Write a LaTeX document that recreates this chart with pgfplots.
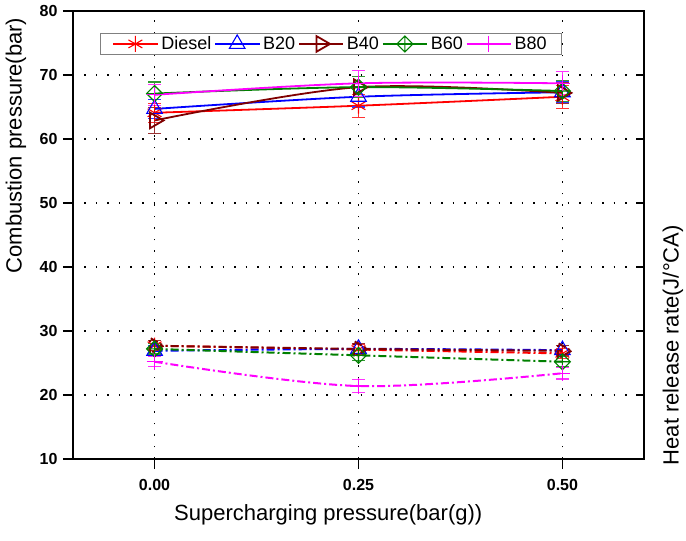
\documentclass[border=0pt]{standalone}
\usepackage{pgfplots}
\pgfplotsset{compat=1.18}
\usepackage{fontspec}
\setmainfont{Liberation Sans}
\usetikzlibrary{plotmarks}

\definecolor{cDiesel}{RGB}{255,0,0}
\definecolor{cBtwenty}{RGB}{0,0,255}
\definecolor{cBforty}{RGB}{128,0,0}
\definecolor{cBsixty}{RGB}{0,128,0}
\definecolor{cBeighty}{RGB}{255,0,255}

% open diamond with a cross inside
\pgfdeclareplotmark{diamond+}{%
  \pgfpathmoveto{\pgfqpoint{0pt}{\pgfplotmarksize}}%
  \pgfpathlineto{\pgfqpoint{\pgfplotmarksize}{0pt}}%
  \pgfpathlineto{\pgfqpoint{0pt}{-\pgfplotmarksize}}%
  \pgfpathlineto{\pgfqpoint{-\pgfplotmarksize}{0pt}}%
  \pgfpathclose
  \pgfpathmoveto{\pgfqpoint{0pt}{\pgfplotmarksize}}%
  \pgfpathlineto{\pgfqpoint{0pt}{-\pgfplotmarksize}}%
  \pgfpathmoveto{\pgfqpoint{\pgfplotmarksize}{0pt}}%
  \pgfpathlineto{\pgfqpoint{-\pgfplotmarksize}{0pt}}%
  \pgfusepathqstroke}

\pgfplotsset{
  common/.style={
    scale only axis, width=571pt, height=448pt,
    at={(0pt,0pt)}, anchor=south west,
    xmin=-0.1, xmax=0.6, ymin=10, ymax=80,
    ytick={10,20,...,80},
    axis line style={line width=1.4pt},
    tick style={line width=1.4pt, black},
    /pgf/number format/assume math mode=true,
  },
  series/.style={color=#1, line width=1.8pt, smooth, tension=0.55,
    mark options={solid, line width=1.1pt},
    error bars/y dir=both, error bars/y explicit,
    error bars/error bar style={line width=1.1pt, solid, #1!80!white},
    error bars/error mark options={rotate=90, mark size=6.5pt, line width=1.1pt, #1!80!white}},
  hrr/.style={series=#1, dash pattern=on 8pt off 3pt on 2pt off 3pt, line width=2pt},
}

\begin{document}
\begin{tikzpicture}
% combustion pressure (left axis)
\begin{axis}[common,
  xtick={0,0.25,0.5}, xticklabels={0.00,0.25,0.50},
  xtick pos=bottom, ytick pos=left,
  tick align=outside, major tick length=10pt,
  grid=major,
  major grid style={black, line width=1.5pt, dash pattern=on 1.5pt off 10pt},
  ticklabel style={font=\fontsize{16}{16}\selectfont\bfseries},
  xticklabel style={yshift=-7pt},
  yticklabel style={xshift=-2pt},
  legend columns=-1,
  legend style={at={(rel axis cs:0.047,0.952)}, anchor=north west,
    draw=gray, line width=1.3pt, font=\fontsize{18}{18}\selectfont,
    inner xsep=12pt, inner ysep=1.5pt,
    nodes={inner xsep=3pt},
    /tikz/every even column/.append style={column sep=0pt}},
  legend image code/.code={%
    \draw[#1, mark repeat=2, mark phase=2] plot coordinates {(0pt,0pt) (22pt,0pt) (44pt,0pt)};},
]
\addplot[series=cDiesel, mark=asterisk, mark size=8pt] coordinates {
  (0,64.1) +- (0,1.5) (0.25,65.2) +- (0,1.8) (0.5,66.6) +- (0,1.8)};
\addlegendentry{Diesel}
\addplot[series=cBtwenty, mark=triangle, mark size=9pt] coordinates {
  (0,64.7) +- (0,1.5) (0.25,66.6) +- (0,1.6) (0.5,67.3) +- (0,1.6)};
\addlegendentry{B20}
\addplot[series=cBforty, mark=triangle, mark size=9pt, mark options={rotate=-90}] coordinates {
  (0,62.9) +- (0,2.0) (0.25,68.1) +- (0,1.6) (0.5,67.2) +- (0,1.6)};
\addlegendentry{B40}
\addplot[series=cBsixty, mark=diamond+, mark size=8pt] coordinates {
  (0,67.1) +- (0,1.8) (0.25,68.1) +- (0,1.6) (0.5,67.5) +- (0,1.6)};
\addlegendentry{B60}
\addplot[series=cBeighty, mark=+, mark size=8pt] coordinates {
  (0,66.9) +- (0,1.6) (0.25,68.7) +- (0,2.0) (0.5,68.7) +- (0,1.8)};
\addlegendentry{B80}
\end{axis}

% heat release rate (right axis)
\begin{axis}[common, clip=false,
  axis x line=none, axis y line*=right,
  yticklabels={}, tick align=inside, major tick length=8pt,
]
\addplot[hrr=cDiesel, mark=asterisk, mark size=8pt] coordinates {
  (0,27.7) +- (0,0.8) (0.25,27.1) +- (0,0.8) (0.5,26.5) +- (0,0.8)};
\addplot[hrr=cBtwenty, mark=triangle, mark size=9pt] coordinates {
  (0,26.9) +- (0,0.8) (0.25,27.2) +- (0,0.8) (0.5,27.0) +- (0,0.8)};
\addplot[hrr=cBforty, mark=triangle, mark size=9pt, mark options={rotate=-90}] coordinates {
  (0,27.7) +- (0,0.8) (0.25,27.2) +- (0,0.8) (0.5,26.9) +- (0,0.8)};
\addplot[hrr=cBsixty, mark=diamond+, mark size=8pt] coordinates {
  (0,27.2) +- (0,0.8) (0.25,26.2) +- (0,0.8) (0.5,25.2) +- (0,0.8)};
\addplot[hrr=cBeighty, mark=+, mark size=8pt] coordinates {
  (0,25.2) +- (0,0.8) (0.25,21.4) +- (0,1.0) (0.5,23.4) +- (0,0.9)};
% axis titles
\node[font=\fontsize{22}{22}\selectfont, anchor=base]
  at ([yshift=-61pt]rel axis cs:0.447,0) {Supercharging pressure(bar(g))};
\node[font=\fontsize{22}{22}\selectfont, rotate=90]
  at ([xshift=-57pt]rel axis cs:0,0.70) {Combustion pressure(bar)};
\node[font=\fontsize{22}{22}\selectfont, rotate=90]
  at ([xshift=29pt]rel axis cs:1,0.254) {Heat release rate(J/°CA)};
\end{axis}
\pgfresetboundingbox
\useasboundingbox (-73pt,-82pt) rectangle (613pt,459pt);
\end{tikzpicture}
\end{document}
